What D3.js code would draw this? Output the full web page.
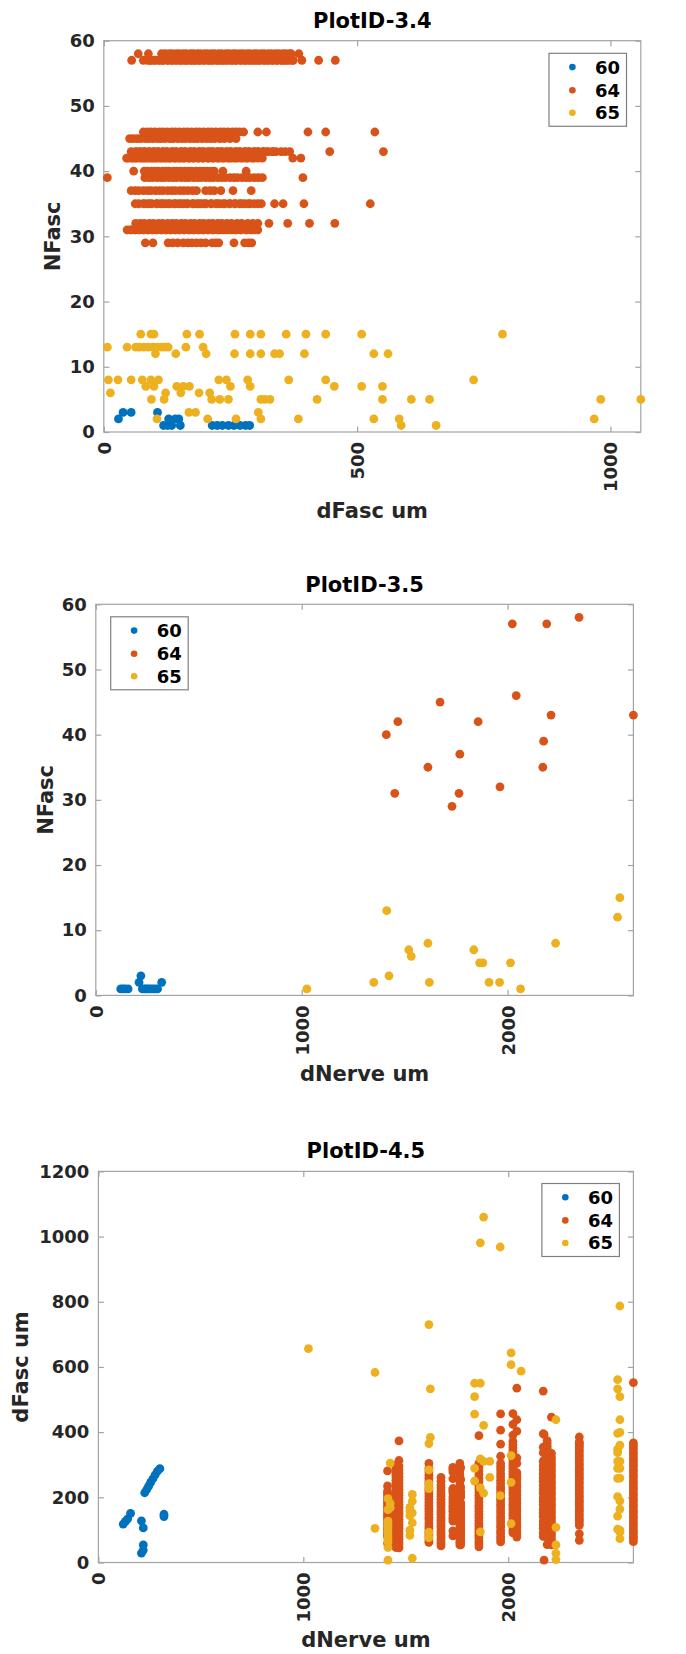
<!DOCTYPE html>
<html><head><meta charset="utf-8">
<script src="https://cdn.jsdelivr.net/npm/d3@7"></script>
<style>
html,body{margin:0;padding:0;background:#fff;}
svg{display:block;font-family:"DejaVu Sans",sans-serif;font-weight:bold;}
</style></head><body>
<svg id="chart" width="686" height="1654"></svg>
<script>
// ---------- DATA ----------
const seriesNames = ["60", "64", "65"];
const seriesColors = ["#0072BD", "#D95319", "#EDB120"];

// series 60 : one entry per nerve
const dNerve60 = [121, 132, 143, 157, 210, 219, 226, 236, 245, 255, 266, 277, 288, 300, 320];
const nFasc60  = [1, 1, 1, 1, 2, 3, 1, 1, 1, 1, 1, 1, 1, 1, 2];
const dFasc60  = [[118], [126], [134], [151], [29, 128], [38, 54, 106], [214], [224], [234], [246], [257], [269], [280], [288], [141, 148]];

// series 64
const dNerve64 = [1411, 1452, 1467, 1613, 1672, 1730, 1764, 1768, 1857, 1963, 2023, 2042, 2171, 2175, 2190, 2211, 2347, 2611];
const nFasc64  = [40, 31, 42, 35, 45, 29, 31, 37, 42, 32, 57, 46, 35, 39, 57, 43, 58, 43];
const dFasc64  = [
  [59, 80, 86, 94, 101, 107, 116, 123, 129, 138, 145, 152, 160, 167, 173, 182, 190, 197, 204, 212, 218, 235, 281],
  [46, 53, 61, 70, 77, 87, 95, 104, 114, 122, 131, 141, 149, 158, 168, 177, 186, 196, 205, 214, 224, 233, 243, 252, 262, 271, 281, 290, 299],
  [45, 54, 62, 71, 79, 88, 97, 105, 115, 124, 132, 142, 151, 159, 169, 178, 187, 196, 206, 215, 224, 234, 244, 253, 263, 274, 284, 296, 313, 373],
  [62, 69, 78, 87, 95, 104, 112, 121, 131, 139, 148, 157, 166, 175, 184, 193, 202, 211, 221, 229, 239, 248, 258, 268, 278, 289, 304],
  [51, 58, 66, 73, 82, 89, 97, 106, 113, 121, 130, 137, 146, 154, 161, 170, 178, 185, 194, 203, 211, 219, 229, 238, 249, 261],
  [82, 97, 127, 136, 146, 157, 166, 174, 183, 192, 201, 214, 221, 227, 257, 278, 286, 292],
  [54, 62, 70, 79, 87, 96, 105, 113, 123, 132, 141, 150, 159, 169, 178, 188, 197, 207, 217, 227, 237, 248, 259, 270, 282, 294, 304],
  [54, 62, 69, 78, 86, 93, 102, 110, 117, 126, 134, 141, 150, 158, 166, 175, 183, 201, 210, 218, 231, 255, 291],
  [48, 57, 65, 75, 83, 93, 101, 111, 120, 129, 139, 148, 157, 167, 176, 186, 196, 206, 216, 227, 237, 248, 259, 270, 281, 292, 304, 389],
  [63, 72, 80, 90, 98, 108, 116, 126, 135, 143, 153, 161, 171, 179, 189, 197, 207, 215, 225, 233, 243, 252, 263, 272, 284, 294, 304, 326, 363, 406, 456],
  [91, 99, 109, 117, 126, 134, 144, 152, 162, 171, 179, 189, 197, 207, 215, 225, 234, 242, 252, 261, 270, 279, 289, 297, 306, 316, 324, 334, 342, 352, 361, 372, 391, 424, 457],
  [78, 86, 93, 101, 110, 117, 125, 134, 141, 149, 158, 165, 173, 182, 189, 197, 206, 213, 221, 230, 237, 245, 254, 261, 268, 276, 304, 321, 403, 438, 535],
  [80, 91, 105, 116, 127, 141, 152, 163, 177, 188, 199, 213, 224, 236, 249, 260, 272, 285, 297, 311, 337, 354, 395, 526],
  [7, 81, 89, 96, 105, 113, 120, 129, 137, 144, 153, 161, 168, 177, 185, 192, 201, 209, 216, 225, 233, 240, 249, 257, 264, 273, 281, 288, 297, 305, 313, 393],
  [55, 78, 86, 93, 102, 110, 117, 126, 134, 141, 150, 158, 165, 174, 182, 189, 198, 206, 213, 222, 230, 237, 246, 254, 261, 270, 278, 285, 294, 302, 309, 318, 326, 333, 342, 350, 357, 366, 374],
  [54, 63, 71, 81, 89, 99, 107, 117, 125, 135, 143, 153, 161, 171, 179, 189, 197, 207, 215, 225, 233, 243, 251, 261, 269, 279, 287, 297, 305, 315, 324, 335, 446],
  [68, 88, 114, 121, 129, 135, 143, 149, 157, 163, 171, 177, 185, 191, 199, 205, 213, 219, 227, 233, 241, 247, 255, 261, 269, 275, 283, 289, 297, 303, 311, 317, 325, 331, 339, 345, 353, 359, 366, 370, 385],
  [64, 73, 80, 90, 98, 107, 116, 124, 134, 142, 152, 160, 170, 178, 188, 196, 206, 214, 224, 232, 242, 250, 260, 268, 278, 286, 296, 304, 314, 322, 332, 340, 350, 358, 367, 552]
];

// series 65
const dNerve65 = [1025, 1350, 1413, 1424, 1520, 1532, 1613, 1620, 1836, 1864, 1880, 1910, 1961, 2014, 2063, 2233, 2534, 2545];
const nFasc65  = [1, 2, 13, 3, 7, 6, 8, 2, 7, 5, 5, 2, 2, 5, 1, 8, 12, 15];
const dFasc65  = [
  [656],
  [105, 583],
  [7, 46, 63, 70, 79, 88, 97, 106, 114, 121, 127, 162, 196],
  [168, 181, 305],
  [83, 99, 144, 157, 169],
  [13, 122, 152, 188, 209],
  [76, 93, 227, 242, 284, 365, 730],
  [384, 533],
  [250, 289, 455, 509, 550],
  [94, 229, 318, 550, 981],
  [213, 310, 421, 1060],
  [261, 310],
  [205, 968],
  [119, 246, 328, 607, 643],
  [587],
  [9, 28, 54, 108, 438],
  [102, 142, 202, 258, 289, 310, 337, 347, 396, 533, 561],
  [73, 93, 99, 164, 189, 259, 289, 310, 360, 399, 438, 509, 787]
];

// tick labels
const xTicksFasc  = [0, 500, 1000];
const xTicksNerve = [0, 1000, 2000];
const yTicksN     = [0, 10, 20, 30, 40, 50, 60];
const yTicksFasc  = [0, 200, 400, 600, 800, 1000, 1200];

// ---------- BUILD ----------
const nerveSets = [
  {dNerve: dNerve60, nFasc: nFasc60, dFasc: dFasc60},
  {dNerve: dNerve64, nFasc: nFasc64, dFasc: dFasc64},
  {dNerve: dNerve65, nFasc: nFasc65, dFasc: dFasc65}
];
const fascPoints = nerveSets.map(s => s.dNerve.flatMap((dn, i) => s.dFasc[i].map(df => ({dNerve: dn, nFasc: s.nFasc[i], dFasc: df}))));
const nervePoints = nerveSets.map(s => s.dNerve.map((dn, i) => ({dNerve: dn, nFasc: s.nFasc[i]})));

const maxDFasc = d3.max(fascPoints.flat(), d => d.dFasc);
const maxDNerve = d3.max(nervePoints.flat(), d => d.dNerve);

const panels = [
  {title: "PlotID-3.4", box: [103.8, 640.8, 40.7, 432], xMax: maxDFasc, yMax: 60,
   xTicks: xTicksFasc, yTicks: yTicksN, xLabel: "dFasc um", yLabel: "NFasc",
   titleY: 27.9, xLabelY: 518, yLabelX: 60.4, legend: [549, 53.3],
   data: fascPoints, fx: d => d.dFasc, fy: d => d.nFasc},
  {title: "PlotID-3.5", box: [95.8, 633.4, 604.3, 995.4], xMax: maxDNerve, yMax: 60,
   xTicks: xTicksNerve, yTicks: yTicksN, xLabel: "dNerve um", yLabel: "NFasc",
   titleY: 592, xLabelY: 1081, yLabelX: 52.5, legend: [110.7, 616.8],
   data: nervePoints, fx: d => d.dNerve, fy: d => d.nFasc},
  {title: "PlotID-4.5", box: [98.4, 633.4, 1171.4, 1562.5], xMax: maxDNerve, yMax: 1200,
   xTicks: xTicksNerve, yTicks: yTicksFasc, xLabel: "dNerve um", yLabel: "dFasc um",
   titleY: 1158.3, xLabelY: 1647, yLabelX: 28.4, legend: [541.9, 1183.5],
   data: fascPoints, fx: d => d.dNerve, fy: d => d.dFasc}
];

const svg = d3.select("#chart");
const AX = "#a3a3a3", TXT = "#262626", TL = 5.5;
const fmt = d3.format("d");

panels.forEach(p => {
  const [L, R, T, B] = p.box;
  const x = d3.scaleLinear().domain([0, p.xMax]).range([L, R]);
  const y = d3.scaleLinear().domain([0, p.yMax]).range([B, T]);
  const g = svg.append("g");

  // box
  g.append("rect").attr("x", L).attr("y", T).attr("width", R - L).attr("height", B - T)
    .attr("fill", "#fff").attr("stroke", AX).attr("stroke-width", 1.2);

  // left axis
  g.append("g").attr("transform", `translate(${L},0)`)
    .call(d3.axisLeft(y).tickValues(p.yTicks).tickSizeInner(-TL).tickSizeOuter(0).tickPadding(9).tickFormat(fmt));
  // bottom axis
  const ax = g.append("g").attr("transform", `translate(0,${B})`)
    .call(d3.axisBottom(x).tickValues(p.xTicks).tickSizeInner(-TL).tickSizeOuter(0).tickFormat(fmt));
  ax.selectAll("text").attr("transform", "rotate(-90)").attr("x", -10).attr("y", 0)
    .attr("dy", "0.36em").attr("text-anchor", "end");
  // mirrored ticks
  g.append("g").attr("transform", `translate(${R},0)`)
    .call(d3.axisRight(y).tickValues(p.yTicks).tickSizeInner(-TL).tickSizeOuter(0).tickFormat(""));
  g.append("g").attr("transform", `translate(0,${T})`)
    .call(d3.axisTop(x).tickValues(p.xTicks).tickSizeInner(-TL).tickSizeOuter(0).tickFormat(""));

  g.selectAll(".domain").remove();
  g.selectAll(".tick line").attr("stroke", AX).attr("stroke-width", 1.2);
  g.selectAll(".tick text").attr("fill", TXT).style("font-size", "18px")
    .style("font-family", "'DejaVu Sans',sans-serif").style("font-weight", "bold");

  // points
  p.data.forEach((pts, si) => {
    g.append("g").selectAll("circle").data(pts).join("circle")
      .attr("cx", d => x(p.fx(d))).attr("cy", d => y(p.fy(d))).attr("r", 4.4)
      .attr("fill", seriesColors[si]);
  });

  // title & labels
  g.append("text").attr("x", (L + R) / 2).attr("y", p.titleY).attr("text-anchor", "middle")
    .attr("fill", "#000").style("font-size", "21px").text(p.title);
  g.append("text").attr("x", (L + R) / 2).attr("y", p.xLabelY).attr("text-anchor", "middle")
    .attr("fill", TXT).style("font-size", "21px").text(p.xLabel);
  g.append("text").attr("transform", `translate(${p.yLabelX},${(T + B) / 2}) rotate(-90)`)
    .attr("text-anchor", "middle").attr("fill", TXT).style("font-size", "21px").text(p.yLabel);

  // legend
  const [lx, ly] = p.legend;
  const lg = g.append("g").attr("transform", `translate(${lx},${ly})`);
  lg.append("rect").attr("width", 77.5).attr("height", 73).attr("fill", "#fff")
    .attr("stroke", "#808080").attr("stroke-width", 1.2);
  const rowOff = [13.8, 36.9, 59.5];
  seriesNames.forEach((nm, i) => {
    lg.append("circle").attr("cx", 23.4).attr("cy", rowOff[i]).attr("r", 3.3).attr("fill", seriesColors[i]);
    lg.append("text").attr("x", 46).attr("y", rowOff[i]).attr("dy", "0.36em")
      .attr("fill", "#000").style("font-size", "18px").text(nm);
  });
});
</script>
</body></html>
